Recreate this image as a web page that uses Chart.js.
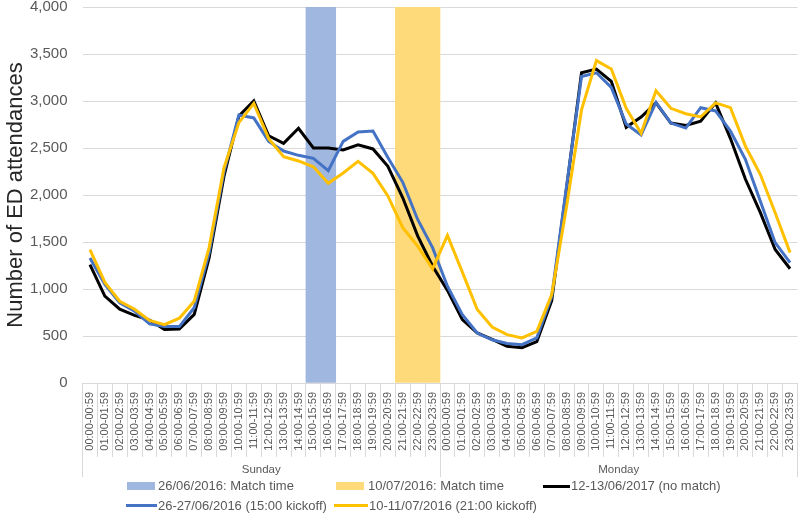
<!DOCTYPE html>
<html>
<head>
<meta charset="utf-8">
<script src="https://cdn.jsdelivr.net/npm/chart.js@4.4.1/dist/chart.umd.min.js"></script>
<style>
  html, body { margin: 0; padding: 0; background: #fff; }
  #wrap { position: relative; width: 800px; height: 514px; font-family: "Liberation Sans", Arial, sans-serif; }
  #chart { position: absolute; left: 0; top: 0; }
  .lg-mark { position: absolute; }
  .lg-text { position: absolute; font-size: 13px; color: #595959; white-space: nowrap; line-height: 16px; }
</style>
</head>
<body>
<div id="wrap">
  <canvas id="chart" width="800" height="514"></canvas>
  <div id="legend"></div>
</div>
<script>
// categories
const sundayHours = ['00:00-00:59', '01:00-01:59', '02:00-02:59', '03:00-03:59', '04:00-04:59', '05:00-05:59',
  '06:00-06:59', '07:00-07:59', '08:00-08:59', '09:00-09:59', '10:00-10:59', '11:00-11:59',
  '12:00-12:59', '13:00-13:59', '14:00-14:59', '15:00-15:59', '16:00-16:59', '17:00-17:59',
  '18:00-18:59', '19:00-19:59', '20:00-20:59', '21:00-21:59', '22:00-22:59', '23:00-23:59'];
const mondayHours = ['00:00-00:59', '01:00-01:59', '02:00-02:59', '03:00-03:59', '04:00-04:59', '05:00-05:59',
  '06:00-06:59', '07:00-07:59', '08:00-08:59', '09:00-09:59', '10:00-10:59', '11:00-11:59',
  '12:00-12:59', '13:00-13:59', '14:00-14:59', '15:00-15:59', '16:00-16:59', '17:00-17:59',
  '18.00-18.59', '19:00-19:59', '20:00-20:59', '21:00-21:59', '22:00-22:59', '23:00-23:59'];
const days = ['Sunday', 'Monday'];

// y axis
const yMin = 0;
const yMax = 4000;
const yStep = 500;

// series (Sunday 24 values, then Monday 24 values)
const noMatch2017 = [1260, 925, 785, 720, 670, 570, 575, 730, 1330, 2200, 2840, 3000,
  2630, 2550, 2710, 2500, 2500, 2480, 2535, 2490, 2305, 1970, 1565, 1245,
  985, 675, 532, 465, 390, 375, 440, 875, 2080, 3300, 3340, 3210,
  2720, 2830, 2980, 2765, 2740, 2785, 2980, 2600, 2170, 1815, 1420, 1215];
const kickoff15 = [1330, 1050, 852, 765, 630, 600, 600, 800, 1380, 2250, 2850, 2820,
  2570, 2468, 2422, 2390, 2260, 2570, 2670, 2680, 2400, 2135, 1740, 1440,
  1030, 727, 532, 460, 420, 408, 480, 920, 2100, 3260, 3300, 3145,
  2755, 2640, 2985, 2765, 2712, 2929, 2894, 2681, 2380, 1936, 1493, 1280];
const kickoff21 = [1420, 1070, 870, 785, 665, 620, 690, 870, 1440, 2290, 2770, 2975,
  2600, 2408, 2362, 2300, 2125, 2234, 2358, 2230, 1990, 1652, 1456, 1215,
  1570, 1180, 781, 595, 514, 479, 550, 941, 1880, 2905, 3430, 3340,
  2922, 2656, 3110, 2922, 2865, 2830, 2980, 2929, 2521, 2220, 1812, 1387];

// match time shading (Sunday hours)
const match15Hours = ['15:00-15:59', '16:00-16:59'];
const match21Hours = ['21:00-21:59', '22:00-22:59', '23:00-23:59'];

const labels = sundayHours.concat(mondayHours);
const band = hours => labels.map((l, i) => (i < sundayHours.length && hours.includes(l)) ? yMax : null);

const FONT = '"Liberation Sans", Arial, sans-serif';
Chart.defaults.font.family = FONT;

const datasets = [
  { type: 'bar', label: '26/06/2016: Match time', data: band(match15Hours),
    backgroundColor: '#A0B7E0', barPercentage: 1, categoryPercentage: 1, grouped: false, order: 5 },
  { type: 'bar', label: '10/07/2016: Match time', data: band(match21Hours),
    backgroundColor: '#FFDA7A', barPercentage: 1, categoryPercentage: 1, grouped: false, order: 4 },
  { type: 'line', label: '12-13/06/2017 (no match)', data: noMatch2017,
    borderColor: '#000000', borderWidth: 3, pointRadius: 0, tension: 0, fill: false, order: 3 },
  { type: 'line', label: '26-27/06/2016 (15:00 kickoff)', data: kickoff15,
    borderColor: '#4472C4', borderWidth: 3, pointRadius: 0, tension: 0, fill: false, order: 2 },
  { type: 'line', label: '10-11/07/2016 (21:00 kickoff)', data: kickoff21,
    borderColor: '#FFC000', borderWidth: 3, pointRadius: 0, tension: 0, fill: false, order: 1 }
];

const chart = new Chart(document.getElementById('chart'), {
  type: 'line',
  data: { labels: labels, datasets: datasets },
  options: {
    responsive: false,
    animation: false,
    locale: 'en-US',
    layout: { padding: { top: 7, right: 2.5, bottom: 37, left: 0 } },
    plugins: { legend: { display: false }, tooltip: { enabled: false } },
    scales: {
      x: {
        offset: true,
        weight: 0,
        grid: { offset: true, drawOnChartArea: false, tickLength: 74, color: '#D9D9D9' },
        border: { color: '#D9D9D9' },
        ticks: { autoSkip: false, minRotation: 90, maxRotation: 90, padding: -65,
          color: '#595959', font: { size: 11 } },
        afterFit: s => { s.height = 74; s.paddingLeft = 0; s.paddingRight = 0; }
      },
      x2: {
        type: 'category',
        labels: days,
        position: 'bottom',
        offset: true,
        weight: 1,
        grid: { offset: true, drawOnChartArea: false, tickLength: 20, color: '#D9D9D9' },
        border: { display: false },
        ticks: { padding: -14, color: '#595959', font: { size: 11.5 } },
        afterFit: s => { s.height = 20; s.paddingLeft = 0; s.paddingRight = 0; }
      },
      y: {
        min: yMin,
        max: yMax,
        ticks: { stepSize: yStep, padding: 15, color: '#595959', font: { size: 15 } },
        grid: { color: '#D9D9D9', drawTicks: false },
        border: { display: false },
        title: { display: true, text: 'Number of ED attendances', color: '#262626',
          font: { size: 22 }, padding: { top: 3, bottom: 0 } },
        afterFit: s => { s.width = 82.5; s.paddingTop = 0; s.paddingBottom = 0; }
      }
    }
  }
});

// legend laid out in columns like the original
const legendSlots = [
  { x: 127, tx: 158, y: 486 },
  { x: 336, tx: 368, y: 486 },
  { x: 543, tx: 571, y: 486 },
  { x: 126, tx: 158, y: 505.5 },
  { x: 334, tx: 369, y: 505.5 }
];
const legend = document.getElementById('legend');
datasets.forEach((ds, i) => {
  const slot = legendSlots[i];
  const mark = document.createElement('div');
  mark.className = 'lg-mark';
  if (ds.type === 'bar') {
    mark.style.cssText = `left:${slot.x}px;top:${slot.y - 4}px;width:28px;height:8px;background:${ds.backgroundColor};`;
  } else {
    mark.style.cssText = `left:${slot.x}px;top:${slot.y - 1.5}px;width:${slot.tx - slot.x - 1}px;height:3px;background:${ds.borderColor};`;
  }
  const text = document.createElement('div');
  text.className = 'lg-text';
  text.style.left = slot.tx + 'px';
  text.style.top = (slot.y - 8) + 'px';
  text.textContent = ds.label;
  legend.appendChild(mark);
  legend.appendChild(text);
});
</script>
</body>
</html>
